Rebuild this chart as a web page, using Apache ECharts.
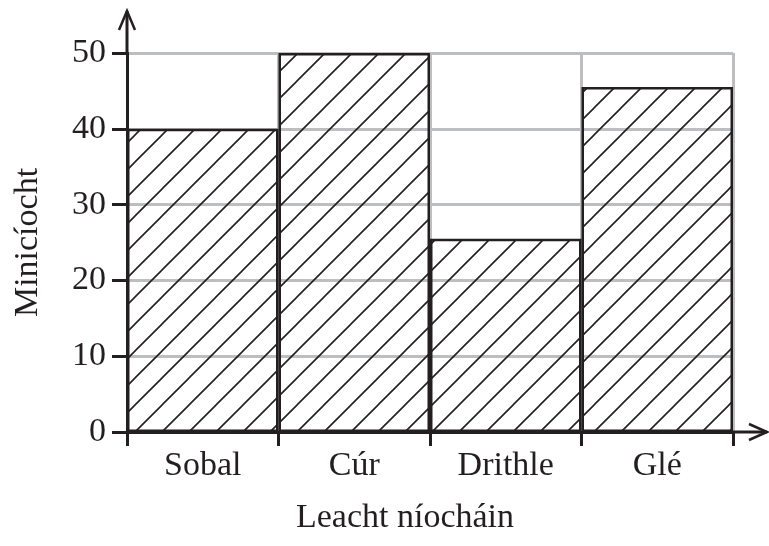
<!DOCTYPE html>
<html>
<head>
<meta charset="utf-8">
<script src="https://cdn.jsdelivr.net/npm/echarts@6/dist/echarts.min.js"></script>
<style>
  html, body { margin: 0; padding: 0; background: #fff; }
  #chart { width: 769px; height: 546px; }
</style>
</head>
<body>
<div id="chart"></div>
<script>
const categories = ["Sobal", "Cúr", "Drithle", "Glé"];
const frequencies = [40, 50, 25.5, 45.5];
const yTicks = [0, 10, 20, 30, 40, 50];
const xTitle = "Leacht níocháin";
const yTitle = "Minicíocht";

const ink = "#231f20";
const gridGray = "#bcbec0";
const font = "'Liberation Serif', 'Times New Roman', serif";

// grid box in px
const gLeft = 127, gRight = 36, gTop = 53, gBottom = 114;
const W = 769, H = 546;
const axisY = H - gBottom;
const plotRight = W - gRight;

// diagonal hatch pattern
function makeHatch(size) {
  const c = document.createElement("canvas");
  c.width = size;
  c.height = size;
  const ctx = c.getContext("2d");
  ctx.strokeStyle = ink;
  ctx.lineWidth = 1.6;
  ctx.beginPath();
  for (const off of [-size, 0, size]) {
    ctx.moveTo(off - 1, size + 1);
    ctx.lineTo(off + size + 1, -1);
  }
  ctx.stroke();
  return c;
}

const chart = echarts.init(document.getElementById("chart"));

const option = {
  animation: false,
  grid: { left: gLeft, right: gRight, top: gTop, bottom: gBottom },
  xAxis: {
    type: "category",
    data: categories,
    name: xTitle,
    nameLocation: "middle",
    nameGap: 69,
    nameTextStyle: { color: ink, fontFamily: font, fontSize: 34, padding: [0, 50, 0, 0] },
    axisLine: { lineStyle: { color: ink, width: 3 } },
    axisTick: { show: true, length: 14, lineStyle: { color: ink, width: 3 } },
    axisLabel: { color: ink, fontFamily: font, fontSize: 34, margin: 17 },
    splitLine: { show: true, lineStyle: { color: gridGray, width: 3 } },
  },
  yAxis: {
    type: "value",
    min: yTicks[0],
    max: yTicks[yTicks.length - 1],
    interval: yTicks[1] - yTicks[0],
    name: yTitle,
    nameLocation: "middle",
    nameGap: 82,
    nameTextStyle: { color: ink, fontFamily: font, fontSize: 34 },
    axisLine: { show: true, lineStyle: { color: ink, width: 3 } },
    axisTick: { show: true, length: 15, lineStyle: { color: ink, width: 3 } },
    axisLabel: { color: ink, fontFamily: font, fontSize: 34, margin: 21 },
    splitLine: { show: true, lineStyle: { color: gridGray, width: 3 } },
  },
  series: [
    {
      type: "bar",
      data: frequencies,
      barWidth: "100%",
      barCategoryGap: 0,
      itemStyle: {
        color: { image: makeHatch(27), repeat: "repeat" },
        borderColor: ink,
        borderWidth: 2.5,
      },
    },
  ],
  graphic: [
    // y axis extension + open arrow head
    {
      type: "polyline",
      shape: { points: [[gLeft, gTop], [gLeft, 11]] },
      style: { stroke: ink, lineWidth: 3, fill: null },
      z: 100,
    },
    {
      type: "polyline",
      shape: { points: [[gLeft - 8, 30], [gLeft, 11], [gLeft + 8, 30]] },
      style: { stroke: ink, lineWidth: 2.5, fill: null },
      z: 100,
    },
    // x axis extension + open arrow head
    {
      type: "polyline",
      shape: { points: [[plotRight, axisY], [W - 2, axisY]] },
      style: { stroke: ink, lineWidth: 3, fill: null },
      z: 100,
    },
    {
      type: "polyline",
      shape: { points: [[W - 20, axisY - 8], [W - 2, axisY], [W - 20, axisY + 8]] },
      style: { stroke: ink, lineWidth: 2.5, fill: null },
      z: 100,
    },
  ],
};

chart.setOption(option);
</script>
</body>
</html>
